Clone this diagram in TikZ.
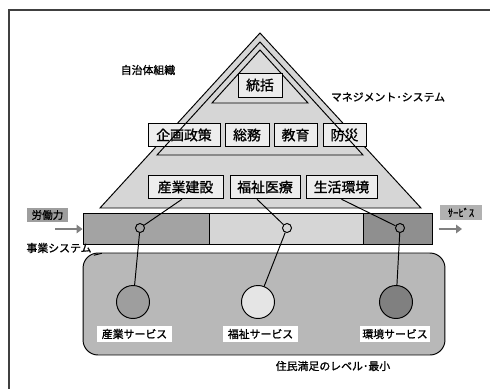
\documentclass[tikz,border=0pt]{standalone}
\usepackage{fontspec}
\setmainfont{Noto Sans CJK JP}[FakeBold=1.2,AutoFakeBold=1.2]
\usetikzlibrary{arrows.meta}
\definecolor{triFill}{gray}{0.84}
\definecolor{triInner}{gray}{0.86}
\definecolor{boxFill}{gray}{0.93}
\definecolor{segA}{gray}{0.64}
\definecolor{segB}{gray}{0.84}
\definecolor{segC}{gray}{0.56}
\definecolor{areaFill}{gray}{0.72}
\definecolor{circA}{gray}{0.62}
\definecolor{circB}{gray}{0.90}
\definecolor{circC}{gray}{0.50}
\definecolor{tagFill}{gray}{0.62}
\definecolor{flowCol}{gray}{0.50}
\begin{document}
\begin{tikzpicture}[x=0.02cm,y=-0.02cm,line width=0.55pt,
  box/.style={draw,fill=boxFill,inner sep=0pt,minimum height=0.47cm,font=\fontsize{7.9}{8}\selectfont},
  lbl/.style={inner sep=1pt,font=\fontsize{6.2}{7}\selectfont\bfseries},
  svc/.style={fill=white,inner sep=0pt,minimum height=0.32cm,font=\fontsize{6.2}{7}\selectfont\bfseries},
  tag/.style={fill=tagFill,inner sep=0pt,minimum height=0.29cm,font=\fontsize{6}{7}\selectfont\bfseries},
  smallc/.style={circle,draw,minimum size=0.18cm,inner sep=0pt},
  bigc/.style={circle,draw,minimum size=0.66cm,inner sep=0pt},
  flow/.style={draw=flowCol,line width=1.6pt,-{Triangle[length=0.12cm,width=0.17cm]}},
  frame/.style={draw=black!75,line width=0.8pt}]
\useasboundingbox (0,0) rectangle (490,389);
\fill[white] (0,0) rectangle (490,389);
\draw[frame] (490,10) -- (9,10) -- (9,389);

% outer triangle
\draw[fill=triFill] (260,33) -- (421,208) -- (100,208) -- cycle;

% row boxes
\node[box,minimum width=1.44cm] (kikaku) at (184,135) {企画政策};
\node[box,minimum width=0.88cm] (somu) at (247,135) {総務};
\node[box,minimum width=0.86cm] (kyoiku) at (295.5,135) {教育};
\node[box,minimum width=0.86cm] (bosai) at (344.5,135) {防災};

\node[box,minimum width=1.50cm] (sangyo) at (185.5,187) {産業建設};
\node[box,minimum width=1.40cm] (fukushi) at (265,187) {福祉医療};
\node[box,minimum width=1.42cm] (seikatsu) at (341.5,187) {生活環境};

% middle triangle outline (over boxes)
\draw (260,42) -- (363,155) -- (157,155) -- cycle;
% inner triangle
\draw[fill=triInner] (260,50) -- (308,103) -- (212,103) -- cycle;
\node[box,minimum width=0.88cm,minimum height=0.48cm] (tokatsu) at (260,85) {統括};

% labels
\node[lbl] (jichitai) at (148,70) {自治体組織};
\node[lbl] (mgmt) at (388,97) {マネジメント･システム};

% business bar
\fill[segA] (83,213) rectangle (209,244);
\fill[segB] (209,213) rectangle (363,244);
\fill[segC] (363,213) rectangle (433,244);
\node[draw,minimum width=7cm,minimum height=0.62cm,inner sep=0pt] (bar) at (258,228.5) {};
\draw (209,213) -- (209,244);
\draw (363,213) -- (363,244);

% residents area
\node[draw,fill=areaFill,rounded corners=0.3cm,minimum width=7.24cm,minimum height=2.04cm,inner sep=0pt] (area) at (264,304) {};

% small circles
\node[smallc] (s1) at (140,228) {};
\node[smallc] (s2) at (287,228) {};
\node[smallc] (s3) at (400,228) {};

% big circles
\node[bigc,fill=circA] (b1) at (133,302) {};
\node[bigc,fill=circB] (b2) at (258,302) {};
\node[bigc,fill=circC] (b3) at (396,302) {};

% connectors
\draw ([xshift=-0.07cm]sangyo.south) -- (s1);
\draw ([xshift=-0.16cm]fukushi.south) -- (s2);
\draw (seikatsu.south) -- (s3);
\draw (s1) -- (b1);
\draw (s2) -- (b2);
\draw (s3) -- (b3);

% service labels
\node[svc,minimum width=1.50cm] (sv1) at (134.5,334) {産業サービス};
\node[svc,minimum width=1.50cm] (sv2) at (260.5,334) {福祉サービス};
\node[svc,minimum width=1.40cm] (sv3) at (395,334) {環境サービス};

\node[lbl] (manzoku) at (333,366) {住民満足のレベル･最小};

% business system label with leader
\node[lbl] (jigyo) at (59,248) {事業システム};
\draw (jigyo.south east) -- ++(8,-2);

% input / output
\node[tag,minimum width=0.82cm] (rodo) at (47.5,215) {労働力};
\coordinate (inStart) at (55,229);
\draw[flow] (inStart) -- (bar.west |- inStart);
\node[tag,minimum width=0.84cm,fill=tagFill!80] (service) at (461,212.5) {ｻｰﾋﾞｽ};
\coordinate (outEnd) at (462,229);
\draw[flow,shorten <=3pt] (bar.east |- outEnd) -- (outEnd);
\end{tikzpicture}
\end{document}
